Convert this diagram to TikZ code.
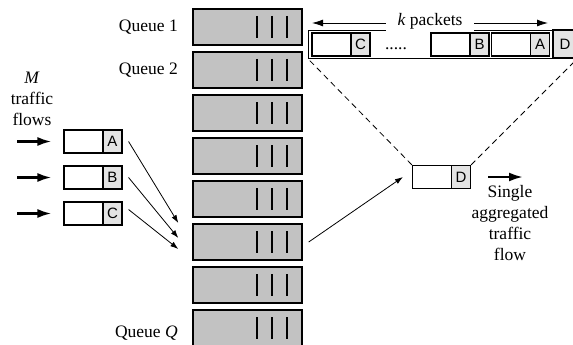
\documentclass[tikz,border=0pt]{standalone}
\usepackage{fontspec}
\setmainfont{Liberation Serif}
\newfontfamily\tagfont{Liberation Sans}
\usetikzlibrary{arrows.meta,positioning}
\definecolor{queuegray}{gray}{0.76}
\definecolor{taggray}{gray}{0.89}
\tikzset{
  >={Latex[length=8pt,width=5.5pt]},
}
\tikzstyle{queue}=[draw,line width=1.4pt,fill=queuegray,minimum width=109pt,minimum height=36pt,inner sep=0pt]
\tikzstyle{bar}=[line width=1.6pt]
\tikzstyle{pkt}=[draw,line width=1.1pt,fill=white,minimum width=58pt,minimum height=23pt,inner sep=0pt]
\tikzstyle{tag}=[draw,line width=1.1pt,fill=taggray,minimum width=19pt,minimum height=23pt,inner sep=0pt,font=\tagfont\fontsize{15}{15}\selectfont]
\tikzstyle{bigarrow}=[line width=2.4pt,-{Latex[length=14pt,width=9pt]}]
\tikzstyle{thinarrow}=[line width=0.8pt,->]
\tikzstyle{zoomline}=[line width=0.8pt,dash pattern=on 6pt off 4pt]
\tikzstyle{every node}=[font=\fontsize{17.5}{21}\selectfont]

\begin{document}
\begin{tikzpicture}[x=1pt,y=-1pt]
  \useasboundingbox (0,0) rectangle (573,345);
  % queues
  \foreach \i in {1,...,8}{
    \node[queue] (q\i) at (247.5,{27+43*(\i-1)}) {};
    \foreach \bx in {257,272,287}
      \draw[bar] (\bx,{16+43*(\i-1)}) -- (\bx,{38+43*(\i-1)});
  }
  \node[left=11pt of q1] (lq1) {Queue 1};
  \node[left=11pt of q2] (lq2) {Queue 2};
  \node[left=11pt of q8,yshift=-5pt] (lq8) {Queue \textit{Q}};
  % incoming flows
  \node[align=center] (mflows) at (32,99) {\textit{M}\\traffic\\flows};
  \foreach \f/\y in {A/141.5,B/177.5,C/213.5}{
    \node[pkt] (p\f) at (93,\y) {};
    \node[tag,anchor=east] (t\f) at (p\f.east) {\f};
    \coordinate (in\f) at (17,\y);
    \draw[bigarrow] (in\f) -- ([xshift=-12pt]p\f.west);
  }
  \draw[thinarrow] ([xshift=6pt]tA.east) -- ([xshift=-14pt,yshift=19pt]q6.west);
  \draw[thinarrow] ([xshift=6pt]tB.east) -- ([xshift=-14pt,yshift=4pt]q6.west);
  \draw[thinarrow] ([xshift=6pt,yshift=4pt]tC.east) -- ([xshift=-14pt,yshift=-7pt]q6.west);
  % aggregated flow
  \node[pkt] (pD) at (441.5,177) {};
  \node[tag,anchor=east] (tD) at (pD.east) {D};
  \draw[thinarrow] ([xshift=6pt]q6.east) -- ([xshift=-9pt]pD.west);
  \coordinate (out) at (523,177);
  \draw[bigarrow] ([xshift=17pt]tD.east) -- (out);
  \node[align=center,anchor=north] (agg) at (510,182) {Single\\aggregated\\traffic\\flow};
  % k packets
  \node[draw,line width=0.8pt,minimum width=244pt,minimum height=28pt,inner sep=0pt] (strip) at (430,44) {};
  \foreach \f/\x in {C/341,B/460,A/520.5}{
    \node[pkt] (s\f) at (\x,44.5) {};
    \node[tag,anchor=east] (st\f) at (s\f.east) {\f};
  }
  \node (dots) at (396,49) {.....};
  \node[tag,minimum height=28pt,minimum width=24pt,anchor=west] (sD) at (strip.east) {D};
  \draw[zoomline] (pD.north west) -- (strip.south west);
  \draw[zoomline] (pD.north east) -- (sD.south east);
  \coordinate (kl) at (312,23);
  \coordinate (kr) at (548,23);
  \draw[line width=0.8pt,{Latex[length=11pt,width=7pt]}-{Latex[length=11pt,width=7pt]}] (kl) -- node[fill=white,inner xsep=12pt,yshift=2pt] (klabel) {\textit{k} packets} (kr);
\end{tikzpicture}
\end{document}
